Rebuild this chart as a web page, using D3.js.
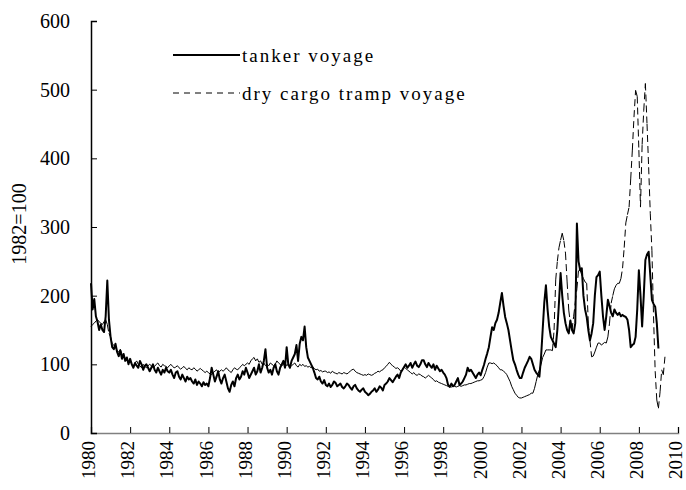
<!DOCTYPE html>
<html lang="en">
<head>
<meta charset="utf-8">
<title>Freight indices</title>
<script src="https://d3js.org/d3.v7.min.js"></script>
<style>
  body { margin: 0; background: #fff; }
  text { font-family: "Liberation Serif", "Times New Roman", serif; fill: #000; }
</style>
</head>
<body>
<script>
// monthly index values, 1982=100, starting Jan 1980
var startYear = 1980;
var tanker = [
  218, 180, 195, 170, 162, 150, 158, 150, 147, 170, 222, 165,
  140, 125, 122, 130, 118, 112, 120, 108, 115, 105, 110, 100,
  108, 100, 95, 102, 98, 95, 105, 100, 92, 98, 100, 95,
  90, 95, 100, 92, 88, 95, 90, 85, 92, 88, 95, 90,
  88, 92, 85, 80, 88, 90, 82, 78, 85, 80, 75, 82,
  78, 80, 75, 72, 78, 70, 75, 72, 68, 74, 70, 72,
  68, 80, 95, 85, 75, 82, 90, 78, 72, 80, 85, 75,
  65, 60, 70, 75, 68, 80, 85, 78, 82, 90, 85, 95,
  88, 80, 85, 90, 95, 85, 90, 100, 88, 95, 105, 122,
  95, 88, 92, 85, 95, 100, 90, 85, 95, 100, 105, 95,
  125, 100, 95, 105, 110, 115, 128, 105, 130, 140, 135, 155,
  125, 110, 105, 100, 95, 88, 80, 78, 82, 75, 72, 77,
  70, 68, 72, 67, 70, 75, 73, 68, 70, 72, 67, 65,
  68, 72, 70, 66, 63, 68, 70, 65, 62, 60, 63, 65,
  60, 58, 55, 57, 60, 62, 65, 60, 63, 68, 66, 62,
  70, 72, 75, 80, 77, 74, 78, 82, 85, 80, 88, 92,
  96, 100, 95, 98, 102, 95, 100, 104, 98, 96, 100, 106,
  106, 100, 96, 102, 98, 95, 100, 92, 98, 94, 90, 92,
  88, 85, 80, 70, 67, 72, 68, 70, 75, 80, 70, 72,
  75, 80, 85, 95, 90, 92, 88, 84, 80, 85, 88, 84,
  92, 99, 108, 116, 125, 140, 154, 150, 160, 165, 175, 190,
  204, 185, 169, 160, 150, 135, 120, 106, 100, 92, 85, 80,
  80, 88, 95, 100, 105, 111, 108, 100, 92, 88, 85, 82,
  110, 150, 190, 215, 180, 155, 140, 135, 130, 125, 150, 190,
  233, 200, 175, 160, 150, 145, 164, 150, 145, 160, 305, 250,
  237, 240, 200, 180, 169, 150, 135, 145, 160, 200, 227, 230,
  235, 200, 170, 150, 170, 194, 185, 175, 170, 180, 175, 172,
  175, 170, 172, 170, 169, 165, 150, 125, 128, 130, 140, 180,
  237, 200, 155, 200, 252, 260, 264, 230, 194, 188, 184, 160,
  123
];
var dryCargo = [
  155, 158, 160, 163, 165, 162, 160, 158, 162, 165, 158, 145,
  140, 130, 128, 125, 120, 118, 122, 115, 110, 108, 105, 103,
  105, 100, 98, 102, 105, 100, 98, 95, 100, 97, 95, 98,
  100, 98, 95, 97, 100, 102, 98, 96, 100, 98, 97, 95,
  98, 100, 97, 95, 96, 98, 95, 93, 95, 97, 94, 92,
  95, 93, 92, 95, 93, 90, 92, 94, 92, 90, 88, 90,
  88, 86, 85, 88, 90, 92, 88, 90, 92, 90, 92, 95,
  92, 90, 88, 92, 95, 93, 92, 95, 97, 100, 98, 100,
  102, 100, 105, 108, 110, 105, 108, 103, 105, 100, 102, 98,
  100, 98, 102, 100, 98, 100, 105, 102, 100, 98, 100, 102,
  98, 100, 96, 98, 100, 102, 98, 96, 100, 98, 100, 97,
  98, 96, 97, 95, 96, 94, 92, 93, 90, 91, 89, 90,
  90, 88, 89, 87, 90, 88, 87, 86, 88, 87, 86, 88,
  87, 86, 88, 90, 92, 93, 90, 88, 87, 86, 85, 84,
  85, 84, 86, 85, 84, 85, 87, 88, 90, 89, 91, 92,
  95, 97, 100, 103, 100, 98, 96, 94, 95, 93, 90, 92,
  96, 94, 92, 90, 88, 86, 88, 85, 84, 86, 85, 83,
  82, 80, 82, 84, 82, 80, 78, 75, 76, 74, 73, 72,
  71, 70, 69, 68, 68, 67, 68, 68, 67, 68, 69, 68,
  69, 70, 70, 71, 72, 72, 73, 74, 75, 76, 76, 77,
  78, 82, 88, 96, 102, 102, 101, 102, 100, 98, 95, 92,
  92, 90, 88, 85, 80, 75, 68, 63, 58, 55, 52, 51,
  51, 52, 53, 54, 55, 56, 58, 58, 65, 75, 85, 92,
  100, 110, 115, 121, 121, 121, 121, 120, 150, 223, 250, 270,
  281, 291, 280, 262, 220, 179, 160, 150, 170, 190, 210, 237,
  237, 230, 225, 220, 218, 160, 135, 111, 112, 118, 125, 131,
  131, 128, 130, 132, 131, 140, 160, 189, 200, 210, 215, 218,
  218, 225, 240, 270, 306, 318, 329, 370, 412, 460, 499, 490,
  412, 329, 420, 470, 509, 450, 387, 320, 266, 170, 90, 48,
  36, 60, 92, 85, 111
];
var xTicks = d3.range(1980, 2011, 2);
var yTicks = [0, 100, 200, 300, 400, 500, 600];
var seriesNames = ["tanker voyage", "dry cargo tramp voyage"];

var w = 686, h = 490;

var x = d3.scaleLinear().domain([1980, 2010]).range([91, 678]);
var y = d3.scaleLinear().domain([0, 600]).range([433, 21]);

var svg = d3.select("body").append("svg")
  .attr("width", w)
  .attr("height", h);

function toPoints(arr) {
  return arr.map(function(v, i) { return [startYear + i / 12, v]; });
}

var line = d3.line()
  .x(function(d) { return x(d[0]); })
  .y(function(d) { return y(d[1]); });

// x axis (grey baseline, ticks pointing up)
var xAxis = svg.append("g")
  .attr("transform", "translate(0,433)")
  .call(d3.axisBottom(x).tickValues(xTicks).tickSize(-6).tickFormat(d3.format("d")));
xAxis.select(".domain").attr("stroke", "#808080").attr("stroke-width", 1.5);
xAxis.selectAll(".tick line").attr("stroke", "#000");
xAxis.selectAll(".tick text")
  .attr("transform", "translate(-2,8) rotate(-90)")
  .attr("x", 0).attr("y", 0).attr("dy", "0.3em")
  .attr("text-anchor", "end")
  .style("font-size", "19px");

// y axis (ticks pointing right)
var yAxis = svg.append("g")
  .attr("transform", "translate(91,0)")
  .call(d3.axisLeft(y).tickValues(yTicks).tickSize(-6).tickPadding(21));
yAxis.select(".domain").attr("stroke", "#000").attr("stroke-width", 1.5);
yAxis.selectAll(".tick text").style("font-size", "20px");

svg.append("text")
  .attr("transform", "translate(26,224) rotate(-90)")
  .attr("text-anchor", "middle")
  .style("font-size", "20px")
  .style("fill", "#000")
  .text("1982=100");

// dry cargo: dashes restart on each monthly segment, like the original spreadsheet chart
var dryPts = toPoints(dryCargo);
svg.append("g").selectAll("line")
  .data(d3.pairs(dryPts))
  .enter().append("line")
  .attr("x1", function(d) { return x(d[0][0]); })
  .attr("y1", function(d) { return y(d[0][1]); })
  .attr("x2", function(d) { return x(d[1][0]); })
  .attr("y2", function(d) { return y(d[1][1]); })
  .attr("stroke", "#000")
  .attr("stroke-width", 1)
  .attr("stroke-dasharray", "7,4");

svg.append("path")
  .datum(toPoints(tanker))
  .attr("d", line)
  .attr("fill", "none")
  .attr("stroke", "#000")
  .attr("stroke-width", 2)
  .attr("stroke-linejoin", "round");

// legend
var legend = svg.append("g");
legend.append("line")
  .attr("x1", 173).attr("x2", 240).attr("y1", 55).attr("y2", 55)
  .attr("stroke", "#000").attr("stroke-width", 2);
legend.append("line")
  .attr("x1", 173).attr("x2", 240).attr("y1", 93).attr("y2", 93)
  .attr("stroke", "#000").attr("stroke-width", 1)
  .attr("stroke-dasharray", "6,5");
legend.selectAll("text")
  .data(seriesNames)
  .enter().append("text")
  .attr("x", 242)
  .attr("y", function(d, i) { return 55 + i * 38; })
  .attr("dy", "0.35em")
  .style("font-size", "19px")
  .style("letter-spacing", "2px")
  .text(function(d) { return d; });
</script>
</body>
</html>
